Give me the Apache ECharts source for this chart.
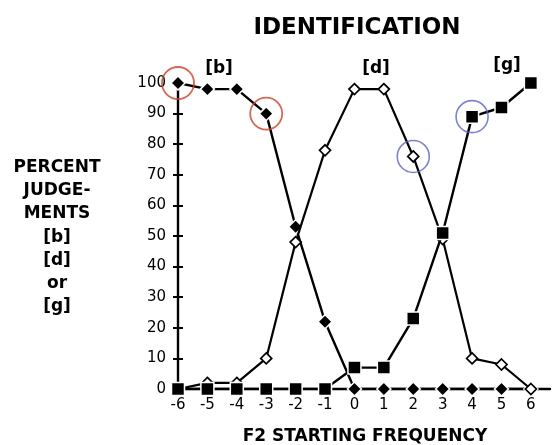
<!DOCTYPE html>
<html>
<head>
<meta charset="utf-8">
<script src="https://cdn.jsdelivr.net/npm/echarts@6/dist/echarts.min.js"></script>
<style>
html,body{margin:0;padding:0;background:#fff;}
#chart{width:553px;height:445px;}
</style>
</head>
<body>
<div id="chart"></div>
<script>
// F2 starting frequency steps
var steps = [-6, -5, -4, -3, -2, -1, 0, 1, 2, 3, 4, 5, 6];
// percent judgements
var bValues = [100, 98, 98, 90, 53, 22, 0, 0, 0, 0, 0, 0, 0];
var dValues = [0, 2, 2, 10, 48, 78, 98, 98, 76, 49, 10, 8, 0];
var gValues = [0, 0, 0, 0, 0, 0, 7, 7, 23, 51, 89, 92, 100];
var yTicks = [0, 10, 20, 30, 40, 50, 60, 70, 80, 90, 100];
// highlighted points (indices into series)
var redCircled = [0, 3];   // on [b]
var blueCircledD = [8];    // on [d]
var blueCircledG = [10];   // on [g]

function pairs(vals){ return steps.map(function(s,i){ return [s, vals[i]]; }); }

var FONT = 'DejaVu Sans';
var chart = echarts.init(document.getElementById('chart'));
var lineStyle = {color:'#000', width:2.4};

chart.setOption({
  animation:false,
  backgroundColor:'#fff',
  grid:{left:178, top:83, right:0, bottom:56, containLabel:false},
  xAxis:{
    type:'value', min:-6, max:6.65, interval:1,
    axisLine:{show:true, onZero:false, lineStyle:{color:'#000', width:2.4}},
    axisTick:{show:false},
    splitLine:{show:false},
    axisLabel:{
      color:'#000', fontFamily:FONT, fontSize:15, margin:9,
      formatter:function(v){ return Number.isInteger(v) ? String(v) : ''; }
    }
  },
  yAxis:[{
    type:'value', min:yTicks[0], max:yTicks[yTicks.length-1], interval:10,
    axisLine:{show:true, onZero:false, lineStyle:{color:'#000', width:2.4}},
    axisTick:{show:true, length:5, lineStyle:{color:'#000', width:2}},
    splitLine:{show:false},
    axisLabel:{color:'#000', fontFamily:FONT, fontSize:15, margin:12}
  },{
    type:'value', min:yTicks[0], max:yTicks[yTicks.length-1], interval:10, position:'left',
    axisLine:{show:false, onZero:false},
    axisTick:{show:true, inside:true, length:5, lineStyle:{color:'#000', width:2}},
    splitLine:{show:false},
    axisLabel:{show:false}
  }],
  series:[
    {
      name:'[b]', type:'line', data:pairs(bValues), z:2,
      symbol:'diamond', symbolSize:14, showAllSymbol:true,
      lineStyle:lineStyle,
      itemStyle:{color:'#000', borderColor:'#fff', borderWidth:1.5}
    },
    {
      name:'[d]', type:'line', data:pairs(dValues), z:3,
      symbol:'diamond', symbolSize:11, showAllSymbol:true,
      lineStyle:{color:'#000', width:2.2},
      itemStyle:{color:'#fff', borderColor:'#000', borderWidth:1.7}
    },
    {
      name:'[g]', type:'line', data:pairs(gValues), z:4,
      symbol:'rect', symbolSize:13, showAllSymbol:true,
      lineStyle:lineStyle,
      itemStyle:{color:'#000', borderColor:'#fff', borderWidth:1.5}
    },
    {
      type:'scatter', z:5, silent:true,
      data:redCircled.map(function(i){ return [steps[i], bValues[i]]; }),
      symbol:'circle', symbolSize:32,
      itemStyle:{color:'rgba(0,0,0,0)', borderColor:'#c8442a', borderWidth:1.8}
    },
    {
      type:'scatter', z:5, silent:true,
      data:blueCircledD.map(function(i){ return [steps[i], dValues[i]]; })
        .concat(blueCircledG.map(function(i){ return [steps[i], gValues[i]]; })),
      symbol:'circle', symbolSize:32,
      itemStyle:{color:'rgba(0,0,0,0)', borderColor:'#5d63c0', borderWidth:1.6}
    }
  ],
  graphic:[
    {type:'text', x:357, y:28, style:{text:'IDENTIFICATION', font:'bold 23px "DejaVu Sans"', fill:'#000', textAlign:'center', textVerticalAlign:'middle'}},
    {type:'text', x:219, y:69, style:{text:'[b]', font:'bold 17px "DejaVu Sans"', fill:'#000', textAlign:'center', textVerticalAlign:'middle'}},
    {type:'text', x:376, y:69, style:{text:'[d]', font:'bold 17px "DejaVu Sans"', fill:'#000', textAlign:'center', textVerticalAlign:'middle'}},
    {type:'text', x:507, y:66, style:{text:'[g]', font:'bold 17px "DejaVu Sans"', fill:'#000', textAlign:'center', textVerticalAlign:'middle'}},
    {type:'text', x:57, y:156, style:{text:'PERCENT\nJUDGE-\nMENTS\n[b]\n[d]\nor\n[g]', font:'bold 17px "DejaVu Sans"', lineHeight:23.2, fill:'#000', textAlign:'center', textVerticalAlign:'top'}},
    {type:'text', x:365, y:437, style:{text:'F2 STARTING FREQUENCY', font:'bold 17px "DejaVu Sans"', fill:'#000', textAlign:'center', textVerticalAlign:'middle'}}
  ]
});
</script>
</body>
</html>
